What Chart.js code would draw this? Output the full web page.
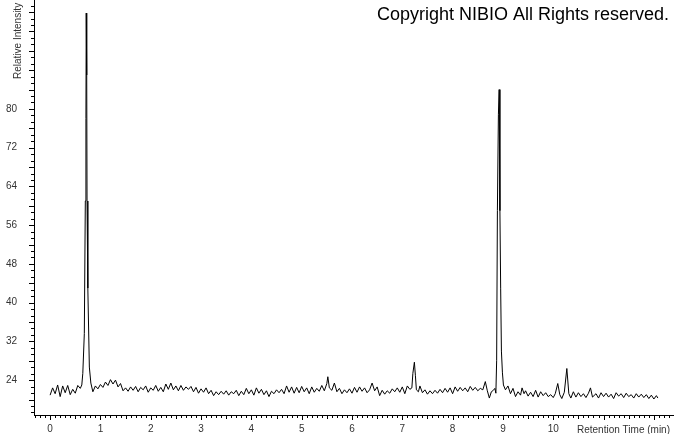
<!DOCTYPE html>
<html>
<head>
<meta charset="utf-8">
<script src="https://cdn.jsdelivr.net/npm/chart.js@4.4.1/dist/chart.umd.min.js"></script>
<style>
    html, body { margin: 0; padding: 0; background: #ffffff; }
    #wrap { position: relative; width: 674px; height: 434px; }
</style>
</head>
<body>
<div id="wrap"><canvas id="chromatogram"></canvas></div>
<script>
// retention time (min) and relative intensity
const retentionTime = [
    0.00, 0.05, 0.10, 0.15, 0.20, 0.25, 0.30, 0.35, 0.40, 0.45, 0.50, 0.55, 0.60,
    0.63, 0.65, 0.68, 0.70, 0.712, 0.718, 0.728, 0.734, 0.75, 0.78, 0.81,
    0.85, 0.90, 0.95, 1.00, 1.05, 1.10, 1.15, 1.20, 1.25, 1.30, 1.35, 1.40, 1.45, 1.50,
    1.55, 1.60, 1.65, 1.70, 1.75, 1.80, 1.85, 1.90, 1.95, 2.00, 2.05, 2.10, 2.15, 2.20,
    2.25, 2.30, 2.35, 2.40, 2.45, 2.50, 2.55, 2.60, 2.65, 2.70, 2.75, 2.80, 2.85, 2.90,
    2.95, 3.00, 3.05, 3.10, 3.15, 3.20, 3.25, 3.30, 3.35, 3.40, 3.45, 3.50, 3.55, 3.60,
    3.65, 3.70, 3.75, 3.80, 3.85, 3.90, 3.95, 4.00, 4.05, 4.10, 4.15, 4.20, 4.25, 4.30,
    4.35, 4.40, 4.45, 4.50, 4.55, 4.60, 4.65, 4.70, 4.75, 4.80, 4.85, 4.90, 4.95, 5.00,
    5.05, 5.10, 5.15, 5.20, 5.25, 5.30, 5.35, 5.40, 5.45, 5.50, 5.52, 5.55, 5.60, 5.65,
    5.70, 5.75, 5.80, 5.85, 5.90, 5.95, 6.00, 6.05, 6.10, 6.15, 6.20, 6.25, 6.30, 6.35,
    6.40, 6.45, 6.50, 6.55, 6.60, 6.65, 6.70, 6.75, 6.80, 6.85, 6.90, 6.95, 7.00, 7.05,
    7.10, 7.15, 7.19, 7.21, 7.24, 7.26, 7.28, 7.32, 7.35, 7.40, 7.45, 7.50, 7.55, 7.60,
    7.65, 7.70, 7.75, 7.80, 7.85, 7.90, 7.95, 8.00, 8.05, 8.10, 8.15, 8.20, 8.25, 8.30,
    8.35, 8.40, 8.45, 8.50, 8.55, 8.60, 8.65, 8.69, 8.73, 8.77, 8.81, 8.84, 8.86,
    8.875, 8.89, 8.91, 8.925, 8.94, 8.955, 8.97, 8.99, 9.01,
    9.05, 9.10, 9.15, 9.20, 9.25, 9.30, 9.35, 9.38, 9.42, 9.45, 9.50, 9.55, 9.60, 9.65,
    9.70, 9.75, 9.80, 9.85, 9.90, 9.95, 10.00, 10.04, 10.09, 10.13, 10.17, 10.22, 10.27,
    10.31, 10.35, 10.40, 10.45, 10.50, 10.55, 10.60, 10.65, 10.70, 10.74, 10.78, 10.85,
    10.90, 10.95, 11.00, 11.05, 11.10, 11.15, 11.20, 11.25, 11.30, 11.35, 11.40, 11.45,
    11.50, 11.55, 11.60, 11.65, 11.70, 11.75, 11.80, 11.85, 11.90, 11.95, 12.00, 12.05, 12.08
];
const relIntensity = [
    20.9, 22.4, 21.2, 23.0, 20.6, 22.8, 21.4, 22.9, 21.0, 22.1, 21.3, 22.9, 22.3,
    23.0, 25.4, 33.6, 61, 78, 99.8, 87, 61, 43, 26.7, 23.4,
    21.6, 22.8, 22.2, 23.1, 22.5, 23.6, 22.9, 24.1, 23.2, 24.0, 22.6, 23.3, 21.8, 22.4,
    21.7, 22.6, 21.9, 22.7, 21.6, 22.5, 22.0, 22.8, 21.5, 22.4, 21.9, 22.9, 21.7, 22.5,
    21.6, 23.2, 22.1, 23.4, 22.0, 22.8, 21.8, 22.9, 21.9, 22.6, 22.1, 22.7, 21.6, 22.5,
    21.3, 22.2, 21.5, 22.4, 21.2, 21.9, 20.8, 21.6, 21.0, 21.7, 21.1, 21.8, 20.9, 21.6,
    21.2, 21.9, 20.8, 21.7, 21.0, 22.3, 21.2, 22.0, 20.9, 22.4, 21.3, 22.1, 21.0, 21.8,
    20.6, 21.7, 21.2, 22.0, 21.4, 22.1, 21.2, 22.8, 21.5, 22.6, 21.3, 22.5, 21.4, 22.7,
    21.6, 22.4, 21.2, 22.6, 21.5, 22.3, 21.7, 22.9, 21.8, 23.3, 24.7, 22.4, 21.9, 23.4,
    21.6, 22.3, 21.2, 22.0, 21.4, 22.2, 21.3, 22.5, 21.5, 22.6, 21.7, 22.4, 21.4, 22.0,
    23.4, 21.8, 22.6, 20.8, 21.9, 21.1, 21.8, 21.3, 22.2, 21.6, 22.4, 21.5, 22.6, 21.2,
    22.8, 22.1, 22.4, 25.4, 27.7, 25.0, 22.0, 21.6, 22.8, 21.4, 22.0, 21.1, 21.8, 21.2,
    21.9, 21.3, 22.1, 21.4, 22.3, 21.5, 22.4, 21.2, 22.6, 21.7, 22.5, 21.8, 22.4, 21.6,
    22.7, 21.9, 22.5, 21.8, 22.3, 22.0, 23.7, 21.8, 20.3, 21.6, 21.9, 22.3, 21.3,
    28.0, 59, 78.8, 84.0, 59, 43, 30, 25.5, 23.0,
    22.0, 22.8, 21.2, 22.3, 20.6, 21.6, 20.9, 22.4, 21.2, 21.8, 20.7, 21.5, 20.6, 21.9,
    20.5, 21.6, 20.8, 21.4, 20.6, 21.0, 20.4, 21.2, 23.3, 21.0, 20.2, 21.5, 26.4,
    21.2, 20.3, 21.6, 20.5, 21.4, 20.6, 21.2, 20.4, 21.3, 22.4, 20.5, 21.2,
    20.3, 21.4, 20.6, 21.3, 20.5, 21.1, 20.2, 21.4, 20.7, 21.2, 20.4, 21.3,
    20.6, 21.0, 20.3, 21.2, 20.5, 21.1, 20.4, 21.0, 20.2, 20.9, 20.1, 20.8, 20.3
];

// labelled ticks
const xTickLabels = [0, 1, 2, 3, 4, 5, 6, 7, 8, 9, 10];
const yTickLabels = [24, 32, 40, 48, 56, 64, 72, 80];

const labelFont = '"Liberation Sans", Arial, sans-serif';

// minor/major tick marks and the free text of the plot
const axisDecor = {
    id: 'axisDecor',
    afterDraw(chart) {
        const ctx = chart.ctx;
        const x = chart.scales.x;
        const y = chart.scales.y;
        ctx.save();
        ctx.strokeStyle = '#000000';
        ctx.lineWidth = 1;
        ctx.beginPath();
        for (let i = Math.ceil(x.min * 10); i <= Math.floor(x.max * 10); i++) {
            const px = Math.round(x.getPixelForValue(i / 10)) + 0.5;
            const len = i % 10 === 0 ? 4 : (i % 5 === 0 ? 3 : 2);
            ctx.moveTo(px, y.bottom + 1);
            ctx.lineTo(px, y.bottom + 1 + len);
        }
        for (let j = Math.ceil(y.min * 0.75); j <= Math.floor(y.max * 0.75); j++) {
            const py = Math.round(y.getPixelForValue(j * 4 / 3)) + 0.5;
            const len = j % 3 === 0 ? 5 : 3;
            ctx.moveTo(x.left, py);
            ctx.lineTo(x.left - len, py);
        }
        ctx.stroke();

        ctx.fillStyle = '#000000';
        ctx.font = '18px ' + labelFont;
        ctx.textAlign = 'left';
        ctx.textBaseline = 'alphabetic';
        ctx.fillText('Copyright NIBIO All Rights reserved.', 377, 20);

        ctx.fillStyle = '#333333';
        ctx.font = '10px ' + labelFont;
        ctx.textBaseline = 'middle';
        ctx.fillText('Retention Time (min)', 577, 430);

        ctx.translate(18, 79);
        ctx.rotate(-Math.PI / 2);
        ctx.fillText('Relative Intensity', 0, 0);
        ctx.restore();
    }
};

const points = retentionTime.map(function (t, i) {
    return { x: t, y: relIntensity[i] };
});

// keep the plot area fixed: no label padding around it
function noPadding(scale) {
    scale.paddingTop = 0;
    scale.paddingBottom = 0;
    scale.paddingLeft = 0;
    scale.paddingRight = 0;
}

new Chart(document.getElementById('chromatogram'), {
    type: 'line',
    data: {
        datasets: [{
            data: points,
            borderColor: '#000000',
            borderWidth: 1,
            pointRadius: 0,
            tension: 0,
            fill: false
        }]
    },
    options: {
        responsive: true,
        maintainAspectRatio: false,
        animation: false,
        layout: { padding: 0 },
        plugins: {
            legend: { display: false },
            tooltip: { enabled: false }
        },
        scales: {
            x: {
                type: 'linear',
                min: -0.32,
                max: 12.4,
                afterBuildTicks: function (scale) {
                    scale.ticks = xTickLabels.map(function (v) { return { value: v }; });
                },
                afterFit: function (scale) {
                    scale.height = 19;
                    noPadding(scale);
                },
                grid: { display: false, drawTicks: false },
                border: { display: true, color: '#000000', width: 1 },
                ticks: {
                    autoSkip: false,
                    maxRotation: 0,
                    padding: 8,
                    color: '#333333',
                    font: { family: labelFont, size: 10 }
                }
            },
            y: {
                type: 'linear',
                min: 16.8,
                max: 102.5,
                afterBuildTicks: function (scale) {
                    scale.ticks = yTickLabels.map(function (v) { return { value: v }; });
                },
                afterFit: function (scale) {
                    scale.width = 34;
                    noPadding(scale);
                },
                grid: { display: false, drawTicks: false },
                border: { display: true, color: '#000000', width: 1 },
                ticks: {
                    padding: 17,
                    color: '#333333',
                    font: { family: labelFont, size: 10 }
                }
            }
        }
    },
    plugins: [axisDecor]
});
</script>
</body>
</html>
